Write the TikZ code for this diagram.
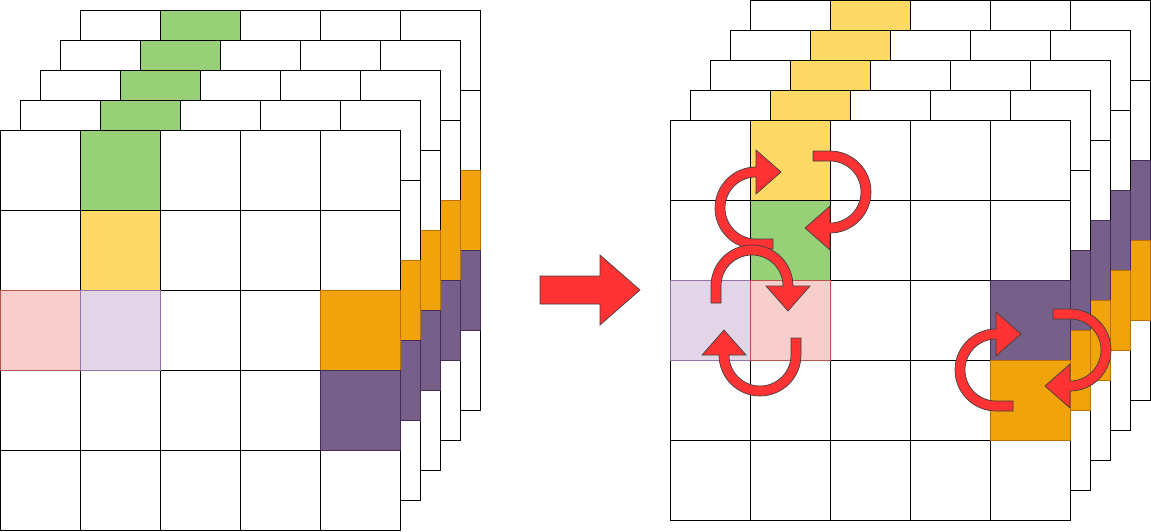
\documentclass[tikz,border=0pt]{standalone}
\usepackage{tikz}
\usetikzlibrary{calc}
\definecolor{mygreen}{RGB}{151,208,119}
\definecolor{myyellow}{RGB}{255,217,102}
\definecolor{mypink}{RGB}{248,206,204}
\definecolor{mypinkline}{RGB}{184,84,80}
\definecolor{mylilac}{RGB}{225,213,231}
\definecolor{mylilacline}{RGB}{150,115,166}
\definecolor{myorange}{RGB}{240,163,10}
\definecolor{myorangeline}{RGB}{189,112,0}
\definecolor{mypurple}{RGB}{118,96,138}
\definecolor{mypurpleline}{RGB}{67,45,87}
\definecolor{myred}{RGB}{255,51,51}

\newcommand{\gridlayer}[3]{%
  \foreach \col in {0,...,4}
    \foreach \row in {0,...,4}
      \draw[cell] ({#1+80*\col},{#2+80*\row}) rectangle ++(80,80);
  \foreach \col/\row/\f/\d in {#3}
    \draw[cell,fill=\f,draw=\d] ({#1+80*\col},{#2+80*\row}) rectangle ++(80,80);
}
\newcommand{\turnarrow}[3]{%
  \begin{scope}[shift={(#1,#2)},rotate=#3]
    \draw[turn] (25,-36) -- (0,-58) -- (0,-41)
      arc[start angle=-90,end angle=-270,radius=41]
      -- (17,41) -- (17,31) -- (0,31)
      arc[start angle=90,end angle=270,radius=31]
      -- (0,-14) -- cycle;
  \end{scope}}

\begin{document}
\begin{tikzpicture}[
  x=1pt, y=-1pt,
  cell/.style={
    draw=black,
    fill=white,
    line width=1pt
    },
  turn/.style={
    fill=myred,
    draw=black!75,
    line width=0.7pt,
    line join=miter
    }
]
\useasboundingbox (0,0) rectangle (1151,531);

\foreach \k in {4,3,2,1,0}
  \gridlayer{20*\k}{130-30*\k}{1/0/mygreen/black, 1/1/myyellow/black,
    0/2/mypink/mypinkline, 1/2/mylilac/mylilacline,
    4/2/myorange/myorangeline, 4/3/mypurple/mypurpleline};

\foreach \k in {4,3,2,1,0}
  \gridlayer{670+20*\k}{120-30*\k}{1/0/myyellow/black, 1/1/mygreen/black,
    0/2/mylilac/mylilacline, 1/2/mypink/mypinkline,
    4/2/mypurple/mypurpleline, 4/3/myorange/myorangeline};

\draw[turn] (540,276) -- (600,276) -- (600,255) -- (640,290)
  -- (600,325) -- (600,304) -- (540,304) -- cycle;

\turnarrow{756}{208}{0}
\turnarrow{830}{192}{180}
\turnarrow{752}{286}{-90}
\turnarrow{760}{355}{90}
\turnarrow{996}{370}{0}
\turnarrow{1070}{350}{180}

\end{tikzpicture}
\end{document}
